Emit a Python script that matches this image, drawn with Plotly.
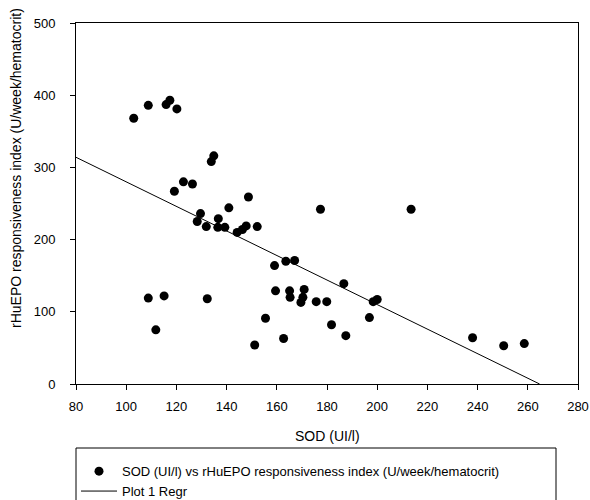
import plotly.graph_objects as go

# SOD (UI/l) values
sod = [103.0, 108.8, 115.9, 117.4, 120.2, 119.2, 122.8, 126.4, 129.6, 128.3,
       131.9, 108.8, 115.1, 132.3, 111.8, 159.1, 163.6, 167.1, 159.5, 165.1,
       170.9, 165.3, 170.4, 169.6, 175.7, 179.9, 181.8, 155.5, 162.7, 151.2,
       177.4, 213.5, 186.7, 198.4, 200.0, 187.5, 196.9, 238.0, 250.4, 258.6,
       134.9, 133.9, 148.7, 140.9, 136.7, 136.5, 139.3, 144.2, 146.3, 147.8,
       152.2]
# rHuEPO responsiveness index (U/week/hematocrit)
rhuepo = [368, 386, 387, 393, 381, 267, 280, 277, 236, 225,
          218, 119, 122, 118, 75, 164, 170, 171, 129, 129,
          131, 120, 120, 113, 114, 114, 82, 91, 63, 54,
          242, 242, 139, 114, 117, 67, 92, 64, 53, 56,
          316, 308, 259, 244, 229, 217, 217, 210, 214, 219,
          218]

# regression line
regr_intercept = 450.0
regr_slope = -1.70

x_range = [80, 280]
y_range = [0, 500]
x_ticks = [80, 100, 120, 140, 160, 180, 200, 220, 240, 260, 280]
y_ticks = [0, 100, 200, 300, 400, 500]

x_end = -regr_intercept / regr_slope
regr_x = [x_range[0], x_end]
regr_y = [regr_intercept + regr_slope * v for v in regr_x]

FONT = "Liberation Sans, Arial, sans-serif"

fig = go.Figure()
fig.add_trace(go.Scatter(
    x=sod, y=rhuepo, mode="markers",
    marker=dict(color="black", size=9),
    name="SOD (UI/l) vs rHuEPO responsiveness index (U/week/hematocrit)",
))
fig.add_trace(go.Scatter(
    x=regr_x, y=regr_y, mode="lines",
    line=dict(color="black", width=1),
    name="Plot 1 Regr",
))

axis_common = dict(
    showline=True, linecolor="black", linewidth=1, mirror=True,
    ticks="outside", ticklen=5, tickcolor="black", tickwidth=1,
    showgrid=False, zeroline=False,
    tickfont=dict(family=FONT, size=13, color="black"),
)
fig.update_xaxes(range=x_range, tickvals=x_ticks, ticklabelstandoff=5, **axis_common)
fig.update_yaxes(range=y_range, tickvals=y_ticks, ticklabelstandoff=12, **axis_common)

fig.update_layout(
    width=590, height=500,
    margin=dict(l=76, r=12, t=23, b=116, autoexpand=False),
    paper_bgcolor="white", plot_bgcolor="white",
    font=dict(family=FONT, size=13, color="black"),
    showlegend=True,
    legend=dict(
        x=0.0, y=-0.2, xanchor="left", yanchor="top",
        bgcolor="rgba(0,0,0,0)", borderwidth=0,
        font=dict(family=FONT, size=13, color="black"),
        itemwidth=36,
    ),
    annotations=[
        dict(text="SOD (UI/l)", xref="paper", yref="paper",
             x=0.5, y=(384 - 436) / 361, xanchor="center", yanchor="middle",
             showarrow=False, font=dict(family=FONT, size=14, color="black")),
        dict(text="rHuEPO responsiveness index (U/week/hematocrit)",
             xref="paper", yref="paper", textangle=-90,
             x=(16 - 76) / 502, y=(384 - 168) / 361,
             xanchor="center", yanchor="middle",
             showarrow=False, font=dict(family=FONT, size=14, color="black")),
    ],
    shapes=[
        dict(type="rect", xref="paper", yref="paper",
             x0=0, x1=(556 - 76) / 502, y0=(384 - 530) / 361, y1=(384 - 448) / 361,
             line=dict(color="black", width=1), fillcolor="rgba(0,0,0,0)"),
    ],
)

fig.write_html(
    "out.html",
    config={"displayModeBar": False},
    post_script="document.body.style.margin='0px';document.body.style.overflow='hidden';",
)
